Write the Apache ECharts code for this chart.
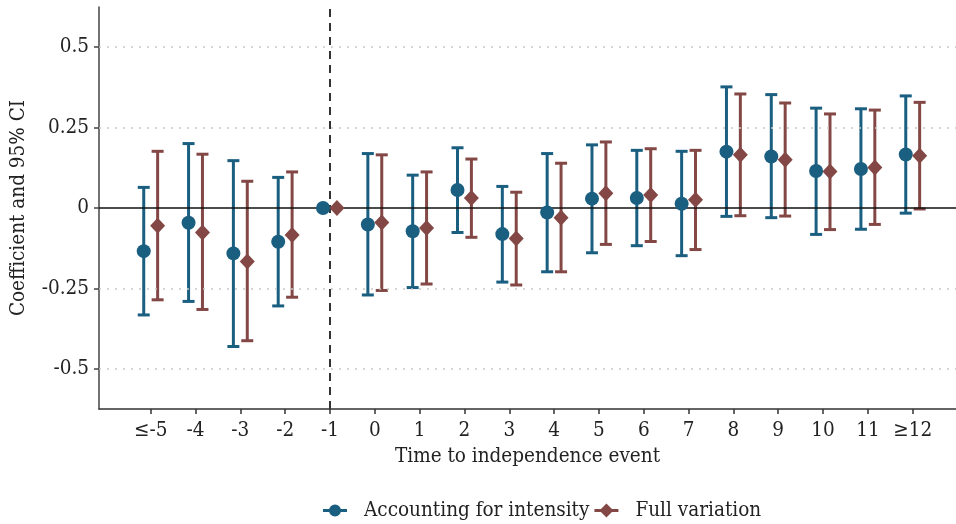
<!DOCTYPE html>
<html>
<head>
<meta charset="utf-8">
<script src="https://cdn.jsdelivr.net/npm/echarts@6/dist/echarts.min.js"></script>
<style>html,body{margin:0;padding:0;background:#fff}#c{width:956px;height:524px}</style>
</head>
<body>
<div id="c"></div>
<script>
const categories = ['≤-5','-4','-3','-2','-1','0','1','2','3','4','5','6','7','8','9','10','11','≥12'];
const intensityCoef = [-0.134,-0.046,-0.141,-0.105,0,-0.051,-0.072,0.056,-0.081,-0.014,0.029,0.031,0.013,0.175,0.160,0.115,0.121,0.166];
const intensityLow  = [-0.332,-0.290,-0.430,-0.304,null,-0.270,-0.247,-0.076,-0.230,-0.198,-0.139,-0.117,-0.148,-0.026,-0.030,-0.082,-0.066,-0.016];
const intensityHigh = [0.064,0.200,0.147,0.095,null,0.169,0.102,0.187,0.067,0.169,0.196,0.179,0.176,0.376,0.352,0.310,0.308,0.348];
const fullCoef = [-0.055,-0.076,-0.166,-0.084,0,-0.045,-0.062,0.031,-0.095,-0.030,0.046,0.040,0.026,0.165,0.150,0.113,0.126,0.162];
const fullLow  = [-0.285,-0.315,-0.412,-0.277,null,-0.256,-0.236,-0.091,-0.239,-0.198,-0.113,-0.104,-0.129,-0.024,-0.025,-0.067,-0.051,-0.003];
const fullHigh = [0.176,0.167,0.083,0.112,null,0.165,0.112,0.152,0.049,0.139,0.205,0.184,0.179,0.354,0.326,0.292,0.304,0.328];
const yTicks = [-0.5,-0.25,0,0.25,0.5];
const referenceEvent = '-1';

const BLUE = '#1a5e80';
const RED = '#834845';
const FONT = '"DejaVu Serif Condensed", "DejaVu Serif", serif';
const FS = 20.5;
const DODGE = 0.155;
const firstPos = -5;
const pos = categories.map((c, i) => firstPos + i);
const labelOf = {};
pos.forEach((p, i) => { labelOf[p] = categories[i]; });

function barData(low, high, off) {
  const out = [];
  low.forEach((l, i) => { if (l !== null && high[i] !== null) out.push([pos[i] + off, l, high[i]]); });
  return out;
}
function pointData(coef, off) { return coef.map((v, i) => [pos[i] + off, v]); }

function errRender(color) {
  return function (params, api) {
    const x = api.value(0);
    const lo = api.coord([x, api.value(1)]);
    const hi = api.coord([x, api.value(2)]);
    const hw = 6;
    const st = { stroke: color, lineWidth: 3, lineCap: 'butt' };
    return { type: 'group', children: [
      { type: 'line', shape: { x1: lo[0], y1: lo[1], x2: hi[0], y2: hi[1] }, style: st },
      { type: 'line', shape: { x1: lo[0] - hw, y1: lo[1], x2: lo[0] + hw, y2: lo[1] }, style: st },
      { type: 'line', shape: { x1: hi[0] - hw, y1: hi[1], x2: hi[0] + hw, y2: hi[1] }, style: st }
    ]};
  };
}

const chart = echarts.init(document.getElementById('c'), null, { renderer: 'canvas' });
const circIcon = 'path://M0,6 L7,6 L7,9 L0,9 Z M17,6 L24,6 L24,9 L17,9 Z M12,1.5 A6,6 0 1 1 11.99,1.5 Z';
const diaIcon = 'path://M0,6 L7,6 L7,9 L0,9 Z M17,6 L24,6 L24,9 L17,9 Z M12,0.5 L19,7.5 L12,14.5 L5,7.5 Z';

chart.setOption({
  animation: false,
  textStyle: { fontFamily: FONT },
  grid: { left: 99, right: 0, top: 7, bottom: 115, containLabel: false, outerBoundsMode: 'none' },
  legend: {
    top: 495, left: 318,
    itemWidth: 24, itemHeight: 15, itemGap: 5,
    textStyle: { fontFamily: FONT, fontSize: FS, color: '#222', padding: [0, 0, 0, 12] },
    data: [
      { name: 'Accounting for intensity', icon: circIcon, itemStyle: { color: BLUE } },
      { name: 'Full variation', icon: diaIcon, itemStyle: { color: RED } }
    ]
  },
  xAxis: {
    type: 'value', min: -6.153, max: 12.966,
    name: 'Time to independence event', nameLocation: 'middle', nameGap: 36,
    nameTextStyle: { fontFamily: FONT, fontSize: FS, color: '#222' },
    axisLine: { show: true, onZero: false, lineStyle: { color: '#333', width: 1.5 } },
    axisTick: { show: true, length: 5, lineStyle: { color: '#333', width: 1.5 }, customValues: pos },
    axisLabel: { customValues: pos, fontFamily: FONT, fontSize: FS, color: '#222', margin: 11,
      formatter: v => labelOf[Math.round(v)] || '' },
    splitLine: { show: false }
  },
  yAxis: {
    type: 'value', min: -0.624, max: 0.624,
    name: 'Coefficient and 95% CI', nameLocation: 'middle', nameGap: 70,
    nameTextStyle: { fontFamily: FONT, fontSize: FS, color: '#222' },
    axisLine: { show: true, onZero: false, lineStyle: { color: '#444', width: 1.5 } },
    axisTick: { show: true, length: 5, lineStyle: { color: '#444', width: 1.5 }, customValues: yTicks },
    axisLabel: { customValues: yTicks, fontFamily: FONT, fontSize: FS, color: '#222', margin: 10,
      formatter: v => String(Math.round(v * 100) / 100) },
    splitLine: { show: false }
  },
  series: [
    {
      type: 'line', data: [], silent: true, z: 1,
      markLine: {
        silent: true, symbol: 'none', label: { show: false },
        data: yTicks.filter(t => t !== 0).map(t => ({ yAxis: t, lineStyle: { color: '#c8c8c8', width: 1.5, type: [2, 6] } }))
          .concat([
            { yAxis: 0, lineStyle: { color: '#111', width: 1.5, type: 'solid' } },
            { xAxis: pos[categories.indexOf(referenceEvent)], lineStyle: { color: '#333', width: 2, type: [8, 6] } }
          ])
      }
    },
    { type: 'custom', name: 'Accounting for intensity', renderItem: errRender(BLUE), data: barData(intensityLow, intensityHigh, -DODGE), encode: { x: 0, y: [1, 2] }, z: 3 },
    { type: 'custom', name: 'Full variation', renderItem: errRender(RED), data: barData(fullLow, fullHigh, DODGE), encode: { x: 0, y: [1, 2] }, z: 3 },
    { type: 'scatter', name: 'Accounting for intensity', symbol: 'circle', symbolSize: 14, itemStyle: { color: BLUE, opacity: 1 }, data: pointData(intensityCoef, -DODGE), z: 5 },
    { type: 'scatter', name: 'Full variation', symbol: 'diamond', symbolSize: [15, 16], itemStyle: { color: RED, opacity: 1 }, data: pointData(fullCoef, DODGE), z: 5 }
  ]
});
</script>
</body>
</html>
